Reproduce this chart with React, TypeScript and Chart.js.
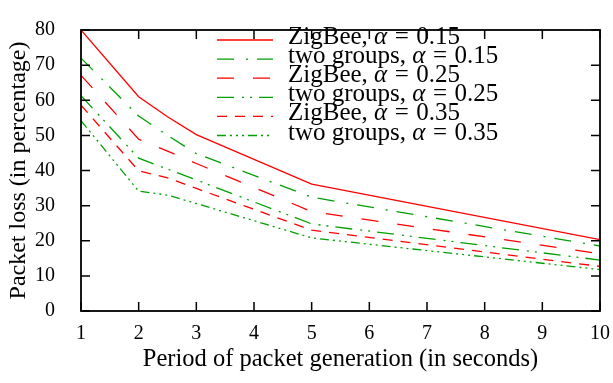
import React, { useEffect, useRef } from "react";
import { Chart, registerables } from "chart.js";

Chart.register(...registerables);

const periods = [1, 2, 2.5, 3, 5, 10];
const zigbee015 = [80, 61.0, 55.3, 50.2, 36.1, 20.3];
const twoGroups015 = [72.0, 55.5, 50.0, 44.8, 32.4, 18.5];
const zigbee025 = [67.1, 48.9, 45.5, 42.0, 28.3, 16.3];
const twoGroups025 = [61.3, 43.5, 40.4, 37.3, 24.8, 14.5];
const zigbee035 = [58.6, 39.9, 37.9, 34.9, 23.0, 12.7];
const twoGroups035 = [54.2, 34.1, 33.0, 30.6, 20.8, 11.8];

const seriesNames = ["ZigBee", "two groups", "ZigBee", "two groups", "ZigBee", "two groups"];
const alphaValues = ["0.15", "0.15", "0.25", "0.25", "0.35", "0.35"];
const seriesValues = [zigbee015, twoGroups015, zigbee025, twoGroups025, zigbee035, twoGroups035];

const xTicks = [1, 2, 3, 4, 5, 6, 7, 8, 9, 10];
const yTicks = [0, 10, 20, 30, 40, 50, 60, 70, 80];

const RED = "#ff0000";
const GREEN = "#00a000";
const colors = [RED, GREEN, RED, GREEN, RED, GREEN];
const dashes: number[][] = [
  [],
  [17, 12, 2, 9],
  [17, 19],
  [17, 8, 2, 6, 2, 7],
  [10, 8],
  [9, 4, 2, 4, 2, 4, 2, 4],
];

const SERIF = "'Liberation Serif', 'DejaVu Serif', serif";

const framePlugin = {
  id: "frameTicks",
  afterDatasetsDraw(chart: any) {
    const { ctx, chartArea } = chart;
    const xs = chart.scales.x;
    const ys = chart.scales.y;
    const L = 9;
    ctx.save();
    ctx.strokeStyle = "#000";
    ctx.lineWidth = 1.5;
    ctx.setLineDash([]);
    ctx.beginPath();
    for (const v of xTicks) {
      const px = xs.getPixelForValue(v);
      ctx.moveTo(px, chartArea.bottom);
      ctx.lineTo(px, chartArea.bottom - L);
      ctx.moveTo(px, chartArea.top);
      ctx.lineTo(px, chartArea.top + L);
    }
    for (const v of yTicks) {
      const py = ys.getPixelForValue(v);
      ctx.moveTo(chartArea.left, py);
      ctx.lineTo(chartArea.left + L, py);
      ctx.moveTo(chartArea.right, py);
      ctx.lineTo(chartArea.right - L, py);
    }
    ctx.stroke();
    ctx.lineWidth = 1.8;
    ctx.strokeRect(chartArea.left, chartArea.top, chartArea.right - chartArea.left, chartArea.bottom - chartArea.top);
    ctx.restore();
  },
};

const legendPlugin = {
  id: "gnuLegend",
  afterDraw(chart: any) {
    const { ctx } = chart;
    const x0 = 217;
    const x1 = 273;
    const tx = 288;
    const base0 = 44;
    const step = 19.1;
    const size = 25;
    ctx.save();
    for (let i = 0; i < seriesNames.length; i++) {
      const by = base0 + i * step;
      const ly = by - 4;
      ctx.strokeStyle = colors[i];
      ctx.lineWidth = 1.3;
      ctx.setLineDash(dashes[i]);
      ctx.beginPath();
      ctx.moveTo(x0, ly);
      ctx.lineTo(x1, ly);
      ctx.stroke();
      ctx.setLineDash([]);
      ctx.fillStyle = "#000";
      ctx.textBaseline = "alphabetic";
      ctx.textAlign = "left";
      let x = tx;
      ctx.font = `${size}px ${SERIF}`;
      const t1 = seriesNames[i] + ", ";
      ctx.fillText(t1, x, by);
      x += ctx.measureText(t1).width;
      ctx.font = `italic ${size}px ${SERIF}`;
      ctx.fillText("α", x, by);
      x += ctx.measureText("α").width + size * 0.3;
      ctx.font = `${size}px ${SERIF}`;
      ctx.fillText("=", x, by);
      x += ctx.measureText("=").width + size * 0.3;
      ctx.fillText(alphaValues[i], x, by);
    }
    ctx.restore();
  },
};

export default function App() {
  const ref = useRef<HTMLCanvasElement | null>(null);
  useEffect(() => {
    document.body.style.margin = "0";
    const canvas = ref.current;
    if (!canvas) return;
    const chart = new Chart(canvas, {
      type: "line",
      data: {
        datasets: seriesValues.map((vals, i) => ({
          label: seriesNames[i] + ", α = " + alphaValues[i],
          data: periods.map((p, j) => ({ x: p, y: vals[j] })),
          borderColor: colors[i],
          backgroundColor: colors[i],
          borderWidth: 1.3,
          borderDash: dashes[i],
          pointRadius: 0,
          tension: 0,
          fill: false,
        })),
      },
      options: {
        responsive: false,
        animation: false,
        devicePixelRatio: 1,
        layout: { padding: { top: 12, right: 11, left: 0, bottom: 0 } },
        plugins: { legend: { display: false }, tooltip: { enabled: false } },
        scales: {
          x: {
            type: "linear",
            min: 1,
            max: 10,
            afterFit: (s: any) => {
              s.height = 72;
            },
            afterBuildTicks: (s: any) => {
              s.ticks = xTicks.map((v) => ({ value: v }));
            },
            ticks: {
              color: "#000",
              font: { family: SERIF, size: 20, lineHeight: 1.2 },
              padding: 3,
              maxRotation: 0,
              autoSkip: false,
            },
            grid: { display: false },
            border: { display: false },
            title: {
              display: true,
              text: "Period of packet generation (in seconds)",
              color: "#000",
              font: { family: SERIF, size: 24.5, lineHeight: 1.2 },
              padding: { top: 0, bottom: 9 },
            },
          },
          y: {
            type: "linear",
            min: 0,
            max: 80,
            afterFit: (s: any) => {
              s.width = 81;
            },
            afterBuildTicks: (s: any) => {
              s.ticks = yTicks.map((v) => ({ value: v }));
            },
            ticks: {
              color: "#000",
              font: { family: SERIF, size: 20, lineHeight: 1.2 },
              padding: 18,
            },
            grid: { display: false },
            border: { display: false },
            title: {
              display: true,
              text: "Packet loss (in percentage)",
              color: "#000",
              font: { family: SERIF, size: 24, lineHeight: 1.2 },
              padding: { top: 4, bottom: 0 },
            },
          },
        },
      },
      plugins: [framePlugin, legendPlugin],
    });
    return () => chart.destroy();
  }, []);
  return (
    <div style={{ width: 613, height: 383, background: "#fff" }}>
      <canvas ref={ref} width={613} height={383} style={{ display: "block", width: 613, height: 383 }} />
    </div>
  );
}
